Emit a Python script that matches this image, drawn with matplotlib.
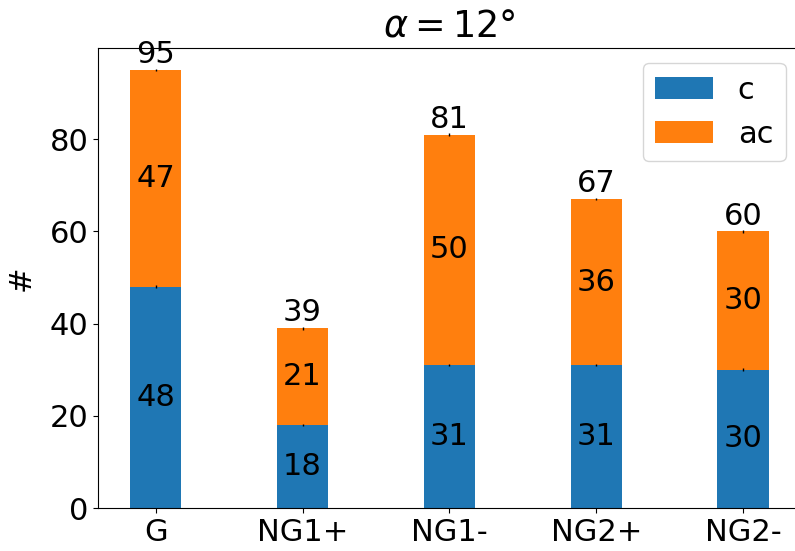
import matplotlib
matplotlib.use("Agg")
import matplotlib.pyplot as plt
import numpy as np

groups = ["G", "NG1+", "NG1-", "NG2+", "NG2-"]
c_counts = [48, 18, 31, 31, 30]
ac_counts = [47, 21, 50, 36, 30]
c_err = [0.3, 0.3, 0.3, 0.3, 0.3]
ac_err = [0.3, 0.3, 0.3, 0.3, 0.3]

plt.rcParams["font.size"] = 22

fig = plt.figure(figsize=(7.95, 5.51), dpi=100)
ax = fig.add_axes([0.1233, 0.078, 0.884, 0.8348])

x = np.arange(len(groups))
width = 0.35
totals = [c + a for c, a in zip(c_counts, ac_counts)]

b1 = ax.bar(x, c_counts, width, yerr=c_err, label="c", color="#1f77b4",
            error_kw=dict(elinewidth=1))
b2 = ax.bar(x, ac_counts, width, bottom=c_counts, yerr=ac_err, label="ac",
            color="#ff7f0e", error_kw=dict(elinewidth=1))

ax.bar_label(b1, labels=[str(v) for v in c_counts], label_type="center")
ax.bar_label(b2, labels=[str(v) for v in ac_counts], label_type="center")
ax.bar_label(b2, labels=[str(v) for v in totals], padding=-0.5)

ax.set_xticks(x)
ax.set_xticklabels(groups)
ax.set_xlim(-0.3925, len(groups) - 1 + 0.3925)
ax.set_ylim(0, max(totals) * 1.05)
ax.set_ylabel("#", labelpad=10)
ax.set_title(r"$\alpha = 12°$", pad=8)
ax.legend(loc="upper right", handlelength=1.9)

fig.savefig("out.png", dpi=100)
